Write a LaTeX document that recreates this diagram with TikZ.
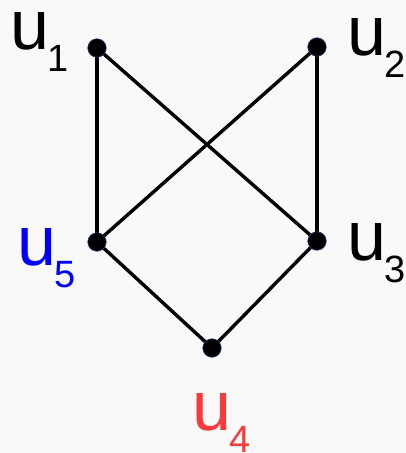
\documentclass[tikz,border=0pt]{standalone}
\usepackage{fontspec}
\setmainfont{Liberation Sans}
\usetikzlibrary{backgrounds}
\definecolor{bgc}{HTML}{F9F9F9}
\definecolor{redc}{HTML}{F83A3A}
\definecolor{rim}{HTML}{1F3F7F}
\newcommand{\vlab}[2]{{\fontsize{70}{70}\selectfont #1}\kern-2pt\raisebox{-22pt}{\fontsize{38}{38}\selectfont #2}}
\begin{document}
\begin{tikzpicture}[x=1pt,y=-1pt,
  vdot/.style={circle,fill=black,draw=rim,line width=0.6pt,minimum size=18.5pt,inner sep=0pt},
  edge/.style={line width=3.4pt,black},
  lab/.style={anchor=base west,inner sep=0pt,outer sep=0pt}]
\useasboundingbox (0,0) rectangle (406,453);
\node[vdot] (u1) at (97,48) {};
\node[vdot] (u2) at (317,47) {};
\node[vdot] (u3) at (317,241) {};
\node[vdot] (u5) at (97,242) {};
\node[vdot] (u4) at (212,348) {};
\begin{scope}[on background layer]
\fill[bgc] (0,0) rectangle (406,453);
\draw[edge] (u1.center) -- (u5.center);
\draw[edge] (u1.center) -- (u3.center);
\draw[edge] (u2.center) -- (u5.center);
\draw[edge] (u2.center) -- (u3.center);
\draw[edge] (u5.center) -- (u4.center);
\draw[edge] (u3.center) -- (u4.center);
\end{scope}
\node[lab] (l1) at (10.5,49) {\vlab{u}{1}};
\node[lab] (l2) at (347.5,55) {\vlab{u}{2}};
\node[lab] (l3) at (347.5,260) {\vlab{u}{3}};
\node[lab,text=blue] (l5) at (17.5,265) {\vlab{u}{5}};
\node[lab,text=redc] (l4) at (192.5,430) {\vlab{u}{4}};
\end{tikzpicture}
\end{document}
